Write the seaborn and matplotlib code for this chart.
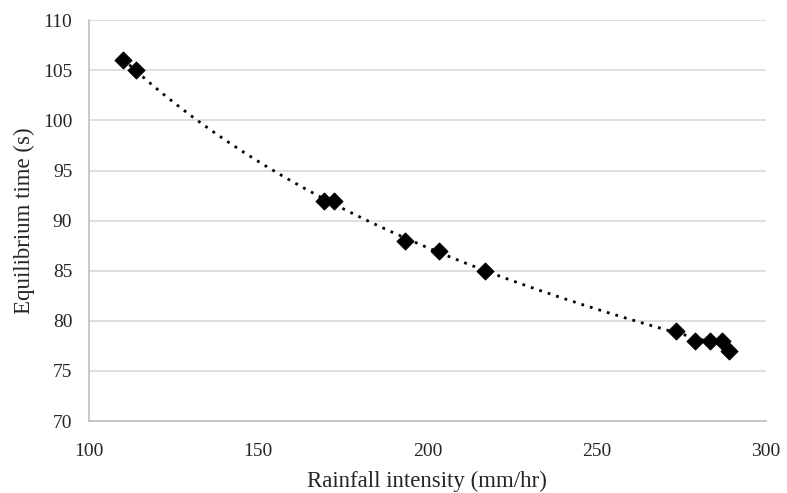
import numpy as np
import pandas as pd
import matplotlib
matplotlib.use('Agg')
import matplotlib.pyplot as plt
import seaborn as sns

# Data
rainfall = [110, 114, 169.5, 172.5, 193.5, 203.5, 217, 273.5, 279, 283.5, 287, 289]
eq_time = [106, 105, 92, 92, 88, 87, 85, 79, 78, 78, 78, 77]
x_ticks = [100, 150, 200, 250, 300]
y_ticks = [70, 75, 80, 85, 90, 95, 100, 105, 110]

df = pd.DataFrame({'Rainfall': rainfall, 'Time': eq_time})

sns.set_style('white')
plt.rcParams['font.family'] = ['Liberation Serif', 'DejaVu Serif']

fig = plt.figure(figsize=(7.87, 4.93), dpi=100)
ax = fig.add_axes([0.113, 0.146, 0.860, 0.813])

# Power trendline (Excel style)
b, log_a = np.polyfit(np.log(df['Rainfall']), np.log(df['Time']), 1)
xs = np.linspace(df['Rainfall'].min(), df['Rainfall'].max(), 200)
ax.plot(xs, np.exp(log_a) * xs ** b, color='black', linestyle=(0, (1, 2.2)), linewidth=2, zorder=2)

sns.scatterplot(data=df, x='Rainfall', y='Time', marker='D', s=75, color='black',
                edgecolor='black', ax=ax, zorder=3)

ax.set_xlim(100, 300)
ax.set_ylim(70, 110)
ax.set_xticks(x_ticks)
ax.set_yticks(y_ticks)
ax.yaxis.grid(True, color='#d9d9d9', linewidth=1.2)
ax.xaxis.grid(False)
for s in ['top', 'right']:
    ax.spines[s].set_visible(False)
for s in ['left', 'bottom']:
    ax.spines[s].set_color('#bfbfbf')
    ax.spines[s].set_linewidth(1.2)
ax.tick_params(axis='both', labelsize=14, length=0)
ax.tick_params(axis='x', pad=15.5)
ax.tick_params(axis='y', pad=12)
ax.set_xlabel('Rainfall intensity (mm/hr)', fontsize=16.5, labelpad=8)
ax.set_ylabel('Equilibrium time (s)', fontsize=16.5, labelpad=6)

fig.savefig('out.png', dpi=100)
